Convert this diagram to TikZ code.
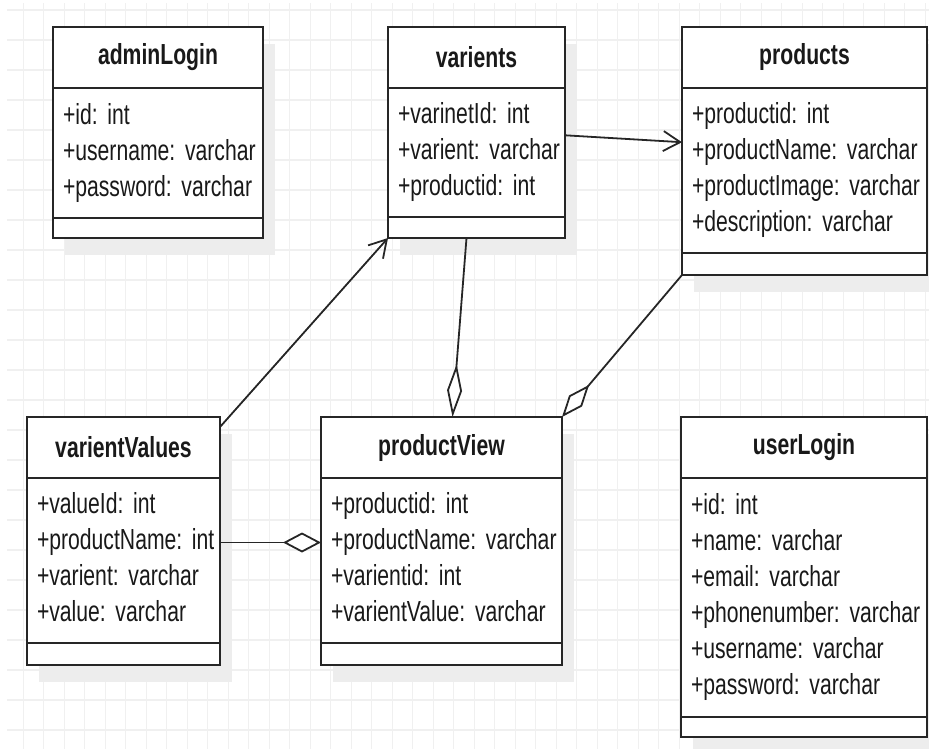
\documentclass[tikz,border=0pt]{standalone}
\usepackage{fontspec}
\setmainfont{Liberation Sans}[FakeStretch=0.73]
\usetikzlibrary{positioning, arrows.meta, shadows}
\newcommand{\fields}[1]{\begin{tabular}{@{}l@{}}#1\end{tabular}}
\frenchspacing

\begin{document}
\begin{tikzpicture}
    [
        x=1pt, y=-1pt,
        grid_line/.style={line width=1.2pt, color=black!6},
        box_shadow/.style={general shadow={fill=black!7, shadow xshift=12pt, shadow yshift=-17pt}},
        head_node/.style={rectangle, draw=black!85, fill=white, line width=1.8pt, outer sep=0pt, inner sep=0pt, anchor=north west, minimum height=61pt, text=black!90, font=\fontsize{29}{36}\selectfont\bfseries, box_shadow},
        attr_node/.style={rectangle, draw=black!85, fill=white, line width=1.8pt, outer sep=0pt, inner xsep=10pt, inner ysep=0pt, align=left, text=black!90, font=\fontsize{29}{36}\selectfont, box_shadow},
        ops_node/.style={rectangle, draw=black!85, fill=white, line width=1.8pt, outer sep=0pt, inner sep=0pt, box_shadow},
    ]
        \useasboundingbox (0,0) rectangle (929,749);
        % background grid
        \foreach \gx in {1,...,45}
            \draw[grid_line] (2.8+20.5*\gx, 3) -- (2.8+20.5*\gx, 749);
        \foreach \gy in {0,...,24}
            \draw[grid_line] (7, 10+30*\gy) -- (929, 10+30*\gy);

        \node[head_node, minimum width=210pt] (adminLogin) at (53,27) {adminLogin};
        \node[attr_node, text width=190pt, minimum height=130pt] (adminLoginAttr) [below=0pt of adminLogin] {\fields{+id: int\\+username: varchar\\+password: varchar}};
        \node[ops_node, minimum width=210pt, minimum height=20pt] (adminLoginOps) [below=0pt of adminLoginAttr] {};

        \node[head_node, minimum width=177pt] (varients) at (388,27) {varients};
        \node[attr_node, text width=157pt, minimum height=129pt] (varientsAttr) [below=0pt of varients] {\fields{+varinetId: int\\+varient: varchar\\+productid: int}};
        \node[ops_node, minimum width=177pt, minimum height=21pt] (varientsOps) [below=0pt of varientsAttr] {};

        \node[head_node, minimum width=245pt] (products) at (682,27) {products};
        \node[attr_node, text width=225pt, minimum height=165pt] (productsAttr) [below=0pt of products] {\fields{+productid: int\\+productName: varchar\\+productImage: varchar\\+description: varchar}};
        \node[ops_node, minimum width=245pt, minimum height=22pt] (productsOps) [below=0pt of productsAttr] {};

        \node[head_node, minimum width=193pt] (varientValues) at (27,417) {varientValues};
        \node[attr_node, text width=173pt, minimum height=165pt] (varientValuesAttr) [below=0pt of varientValues] {\fields{+valueId: int\\+productName: int\\+varient: varchar\\+value: varchar}};
        \node[ops_node, minimum width=193pt, minimum height=22pt] (varientValuesOps) [below=0pt of varientValuesAttr] {};

        \node[head_node, minimum width=241pt] (productView) at (321,417) {productView};
        \node[attr_node, text width=221pt, minimum height=165pt] (productViewAttr) [below=0pt of productView] {\fields{+productid: int\\+productName: varchar\\+varientid: int\\+varientValue: varchar}};
        \node[ops_node, minimum width=241pt, minimum height=22pt] (productViewOps) [below=0pt of productViewAttr] {};

        \node[head_node, minimum width=246pt] (userLogin) at (681,417) {userLogin};
        \node[attr_node, text width=226pt, minimum height=239pt] (userLoginAttr) [below=0pt of userLogin] {\fields{+id: int\\+name: varchar\\+email: varchar\\+phonenumber: varchar\\+username: varchar\\+password: varchar}};
        \node[ops_node, minimum width=246pt, minimum height=20pt] (userLoginOps) [below=0pt of userLoginAttr] {};

        \draw[-{Straight Barb[length=17pt, width=20pt]}, line width=1.8pt, color=black!85] ([yshift=-10pt]varientValues.north east) -- (varientsOps.south west) ;
        \draw[-{Straight Barb[length=17pt, width=20pt]}, line width=1.8pt, color=black!85] (varientsAttr.11) -- (productsAttr.167) ;
        \draw[-{Diamond[fill=white, length=53pt, width=15pt]}, line width=1.8pt, color=black!85] ([xshift=-10pt]varientsOps.south) -- ([xshift=11pt]productView.north) ;
        \draw[-{Diamond[fill=white, length=42pt, width=17pt]}, line width=1.8pt, color=black!85] (productsOps.south west) -- (productView.north east) ;
        \draw[-{Diamond[fill=white, length=38pt, width=20pt]}, line width=1.8pt, color=black!85] ([yshift=18pt]varientValuesAttr.east) -- ([yshift=18pt]productViewAttr.west) ;
    \end{tikzpicture}
\end{document}
